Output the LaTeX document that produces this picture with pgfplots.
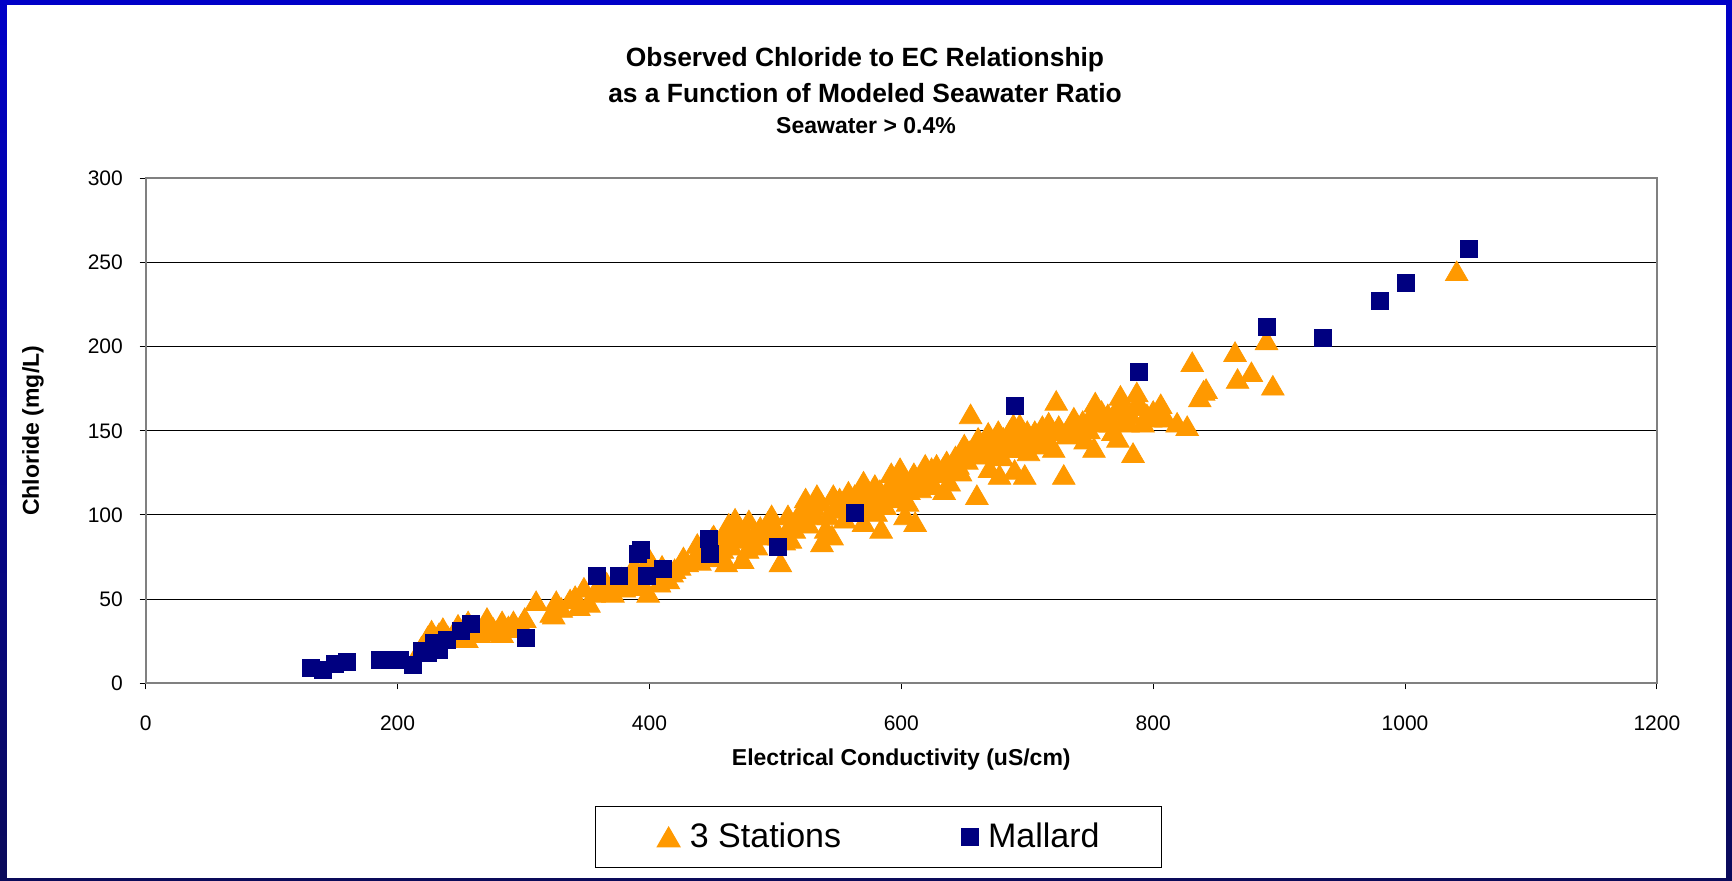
\documentclass[border=0pt]{standalone}
\usepackage{fontspec}
\setmainfont{Liberation Sans}
\usepackage{pgfplots}
\pgfplotsset{compat=1.18}
\definecolor{orng}{HTML}{FF9900}
\definecolor{navy}{HTML}{000080}
\definecolor{bluetop}{HTML}{0000C8}
\definecolor{bluebot}{HTML}{0A0A5A}
\definecolor{framegray}{HTML}{808080}

\pgfplotstableread{
x y
219 22
224 28
227 31.5
230 26
233 30
236 33
240 28
245 30
248 35
252 33
255 27
256 37
259 32
262 30
265 30
268 34
271 39
276 33
279 31
283 37
283 30
288 34
292 37
294 33
298 35
301 39
310 49
322 42
324 41
326 49
330 45
337 50
341 52
344 46
348 57
352 48
356 54
359 56
362 58
366 60
368 55
371 54
375 58
378 63
380 57
382 60
386 66
388 70
390 62
393 66
395 58
399 54
400 74
403 70
405 66
408 60
410 70
412 64
415 62
418 66
420 68
424 70
427 75
430 72
435 74
438 83
440 73
442 80
443 76
446 80
447 84
450 87
452 78
455 75
451 88
456 84
458 80
460 90
461 72
463 95
465 82
467 88
468 98
470 86
472 93
474 74
476 90
478 80
479 97
482 84
484 90
485 82
488 93
490 88
492 92
494 96
497 100
498 95
500 90
503 88
504 72
507 85
510 100
512 95
512 86
515 92
516 97
518 100
520 96
522 104
524 110
526 95
528 104
530 106
532 100
533 112
536 108
537 84
540 92
542 100
545 88
546 112
548 104
551 110
553 104
555 98
557 107
558 114
562 104
563 112
566 108
568 115
570 120
570 96
572 105
574 110
577 114
579 118
580 102
583 115
584 92
587 106
588 112
591 118
592 125
594 110
596 118
598 112
599 128
601 122
603 100
605 108
606 115
608 120
610 125
611 96
613 120
615 116
617 125
619 130
622 122
624 128
626 118
628 130
630 125
633 128
634 115
636 132
638 120
641 128
643 135
645 130
647 126
649 137
650 142
652 133
654 138
655 160
658 140
660 112
661 146
663 142
664 138
666 136
667 144
669 149
670 128
672 142
674 138
675 146
677 150
678 124
680 135
681 146
683 140
685 145
686 150
688 140
689 154
690 127
692 146
693 150
694 154
696 147
697 140
698 124
700 150
701 138
703 146
704 144
706 150
708 148
709 142
712 153
713 145
715 146
717 155
718 150
721 140
723 168
725 153
727 150
729 124
732 148
735 152
737 158
740 150
742 153
744 156
746 145
749 151
751 160
753 140
754 167
757 156
759 162
761 155
764 160
766 155
768 150
770 162
772 146
774 171
776 165
778 158
780 155
782 160
784 137
786 165
787 173
790 165
792 155
795 160
798 158
800 162
806 166
806 162
810 158
819 155
827 153
831 191
837 170
840 174
842 175
865 197
867 181
878 185
890 204
895 177
1041 245
}\stations

\pgfplotstableread{
x y
131 9
141 8
150 11.5
160 13
186 14
194 14
202 14
212 11
219 19
224 18
229 24
233 20
239 26
250 31
258 35
302 27
358 64
376 64
391 77
393 79
398 64
411 68
447 86
448 77
502 81
563 101
690 165
789 185
890 212
935 205
980 227
1001 238
1051 258
}\mallard

\begin{document}
\begin{tikzpicture}
\shade[top color=bluetop, bottom color=bluebot] (0pt,0pt) rectangle (866pt,440pt);
\fill[white] (3.5pt,1.2pt) rectangle (863pt,437.5pt);
\node[font=\fontsize{13.2}{16}\selectfont\bfseries] at (432.5pt,410.4pt) {Observed Chloride to EC Relationship};
\node[font=\fontsize{13.2}{16}\selectfont\bfseries] at (432.5pt,393.4pt) {as a Function of Modeled Seawater Ratio};
\node[font=\fontsize{11.5}{14}\selectfont\bfseries] at (433pt,377pt) {Seawater > 0.4\%};
\begin{axis}[
  at={(72.85pt,98.35pt)}, anchor=south west,
  scale only axis, width=755.6pt, height=252.5pt,
  xmin=0, xmax=1200, ymin=0, ymax=300,
  xtick={0,200,...,1200}, ytick={0,50,...,300},
  ymajorgrids, grid style={black, line width=0.5pt},
  axis line style={draw=framegray, line width=1pt},
  tick align=outside, tick pos=left, major tick length=3pt,
  tick style={black, line width=0.5pt},
  ticklabel style={font=\fontsize{10.5}{12}\selectfont},
  /pgf/number format/assume math mode=true,
  /pgf/number format/set thousands separator={},
  scaled ticks=false,
  xticklabel style={yshift=-9.5pt},
  yticklabel style={xshift=-4.9pt},
  xlabel={Electrical Conductivity (uS/cm)},
  ylabel={Chloride (mg/L)},
  xlabel style={font=\fontsize{11.5}{14}\selectfont\bfseries, at={(axis description cs:0.5,-0.15)}, anchor=center},
  ylabel style={font=\fontsize{11.5}{14}\selectfont\bfseries, at={(axis description cs:-0.0746,0.5)}, anchor=center},
  legend columns=2,
  legend image code/.code={\draw[#1] plot coordinates {(0pt,0pt)};},
  legend style={at={(0.4849,-0.3044)}, anchor=center, draw=black, line width=0.6pt,
    inner xsep=31pt, inner ysep=8.5pt, font=\fontsize{17}{20}\selectfont,
    nodes={inner sep=0pt},
    /tikz/every odd column/.append style={column sep=5pt},
    /tikz/every even column/.append style={column sep=60pt}},
]
\addplot[only marks, mark=triangle*, mark size=6.5pt, color=orng, mark options={fill=orng, draw=orng, yshift=-1.6pt}] table[x=x,y=y] {\stations};
\addlegendentry{3 Stations}
\addplot[only marks, mark=square*, mark size=4.25pt, color=navy, mark options={fill=navy, draw=navy}] table[x=x,y=y] {\mallard};
\addlegendentry{Mallard}
\end{axis}
\end{tikzpicture}
\end{document}
